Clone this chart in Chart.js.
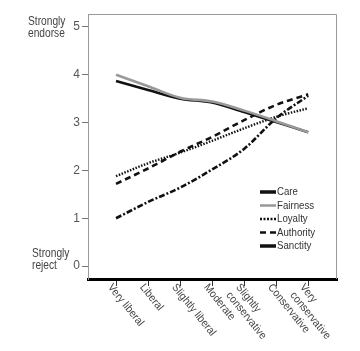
<!DOCTYPE html>
<html>
<head>
<meta charset="utf-8">
<script src="https://cdn.jsdelivr.net/npm/chart.js@4"></script>
<style>
  html, body { margin: 0; padding: 0; background: #fff; }
  #wrap { width: 360px; height: 351px; }
</style>
</head>
<body>
<div id="wrap"><canvas id="moralChart" width="360" height="351"></canvas></div>
<script>
// --- data ---
const categories = [
    ['Very liberal'], ['Liberal'], ['Slightly liberal'], ['Moderate'],
    ['Slightly', 'conservative'], ['Conservative'], ['Very', 'conservative']
];
const yTicks = [0, 1, 2, 3, 4, 5];
const care      = [3.87, 3.68, 3.50, 3.42, 3.22, 3.01, 2.80];
const fairness  = [4.00, 3.76, 3.52, 3.44, 3.25, 3.03, 2.80];
const loyalty   = [1.88, 2.15, 2.37, 2.62, 2.88, 3.12, 3.30];
const authority = [1.72, 2.04, 2.39, 2.70, 3.05, 3.37, 3.59];
const sanctity  = [1.00, 1.34, 1.64, 2.02, 2.45, 3.09, 3.56];
const seriesNames = ['Care', 'Fairness', 'Loyalty', 'Authority', 'Sanctity'];

const FONT = "'Liberation Sans', Arial, sans-serif";
const toPoints = arr => arr.map((v, i) => ({ x: i, y: v }));

// line looks per foundation
const styles = [
    { color: '#111', width: 2.6, dash: [] },
    { color: '#999', width: 2.6, dash: [] },
    { color: '#111', width: 2.4, dash: [1.5, 1.5] },
    { color: '#111', width: 2.6, dash: [6, 4] },
    { color: '#111', width: 2.6, dash: [6, 2, 2, 2] }
];
const seriesData = [care, fairness, loyalty, authority, sanctity];

// narrow-looking text like the printed figure
function narrowText(ctx, t, x, y, sx) {
    ctx.save();
    ctx.translate(x, y);
    ctx.scale(sx, 1);
    ctx.fillText(t, 0, 0);
    ctx.restore();
}

// --- extra drawing: frame, axis titles, rotated labels, legend ---
const decorations = {
    id: 'decorations',
    afterDraw(chart) {
        const ctx = chart.ctx;
        const ca = chart.chartArea;
        const xs = chart.scales.x;
        ctx.save();

        // grey frame top + right
        ctx.strokeStyle = '#999';
        ctx.lineWidth = 1;
        ctx.beginPath();
        ctx.moveTo(ca.left, ca.top + 0.5);
        ctx.lineTo(ca.right - 0.5, ca.top + 0.5);
        ctx.lineTo(ca.right - 0.5, ca.bottom);
        ctx.stroke();

        // y end titles
        ctx.fillStyle = '#444';
        ctx.font = '12px ' + FONT;
        ctx.textBaseline = 'top';
        ctx.textAlign = 'left';
        narrowText(ctx, 'Strongly', 28, 16, 0.85);
        narrowText(ctx, 'endorse', 28, 28, 0.85);
        narrowText(ctx, 'Strongly', 32, 248, 0.85);
        narrowText(ctx, 'reject', 32, 260, 0.85);

        // slanted category labels
        ctx.font = '11px ' + FONT;
        categories.forEach((lines, i) => {
            const x = xs.getPixelForValue(i);
            ctx.save();
            ctx.translate(x - 2, ca.bottom + 3);
            ctx.rotate(51 * Math.PI / 180);
            ctx.scale(0.93, 1);
            lines.forEach((t, k) => ctx.fillText(t, 0, k * 12.5));
            ctx.restore();
        });

        // legend
        const lx = 260, ly = 192, step = 13.5;
        seriesNames.forEach((name, i) => {
            const y = ly + i * step;
            const s = styles[i];
            ctx.strokeStyle = s.color;
            ctx.lineWidth = (i === 0 || i === 4) ? 3.5 : 2.5;
            ctx.setLineDash(i === 4 ? [] : (i === 2 ? [2, 1.5] : s.dash));
            ctx.beginPath();
            ctx.moveTo(lx, y);
            ctx.lineTo(lx + 16, y);
            ctx.stroke();
            ctx.setLineDash([]);
            ctx.fillStyle = '#333';
            ctx.textBaseline = 'middle';
            narrowText(ctx, name, lx + 17, y, 0.88);
        });
        ctx.restore();
    }
};

const ctx = document.getElementById('moralChart').getContext('2d');
new Chart(ctx, {
    type: 'line',
    data: {
        datasets: seriesNames.map((name, i) => ({
            label: name,
            data: toPoints(seriesData[i]),
            borderColor: styles[i].color,
            borderWidth: styles[i].width,
            borderDash: styles[i].dash,
            pointRadius: 0,
            cubicInterpolationMode: 'monotone',
            fill: false,
            order: i === 1 ? 0 : 1
        }))
    },
    options: {
        responsive: false,
        animation: false,
        layout: { padding: { top: 14, right: 23, left: 0, bottom: 0 } },
        plugins: { legend: { display: false }, tooltip: { enabled: false } },
        scales: {
            x: {
                type: 'linear',
                min: -0.875,
                max: 6.9,
                afterBuildTicks: s => { s.ticks = categories.map((c, i) => ({ value: i })); },
                afterFit: s => { s.height = 72; },
                ticks: { display: false },
                grid: { drawOnChartArea: false, drawTicks: true, tickLength: 7, color: '#333', lineWidth: 1 },
                border: { display: true, color: '#000', width: 3 }
            },
            y: {
                min: -0.27,
                max: 5.27,
                afterBuildTicks: s => { s.ticks = yTicks.map(v => ({ value: v })); },
                afterFit: s => { s.width = 88; },
                ticks: { color: '#555', font: { size: 12, family: FONT }, padding: 2 },
                grid: { drawOnChartArea: false, drawTicks: true, tickLength: 6, color: '#777', lineWidth: 1 },
                border: { display: true, color: '#999', width: 1 }
            }
        }
    },
    plugins: [decorations]
});
</script>
</body>
</html>
